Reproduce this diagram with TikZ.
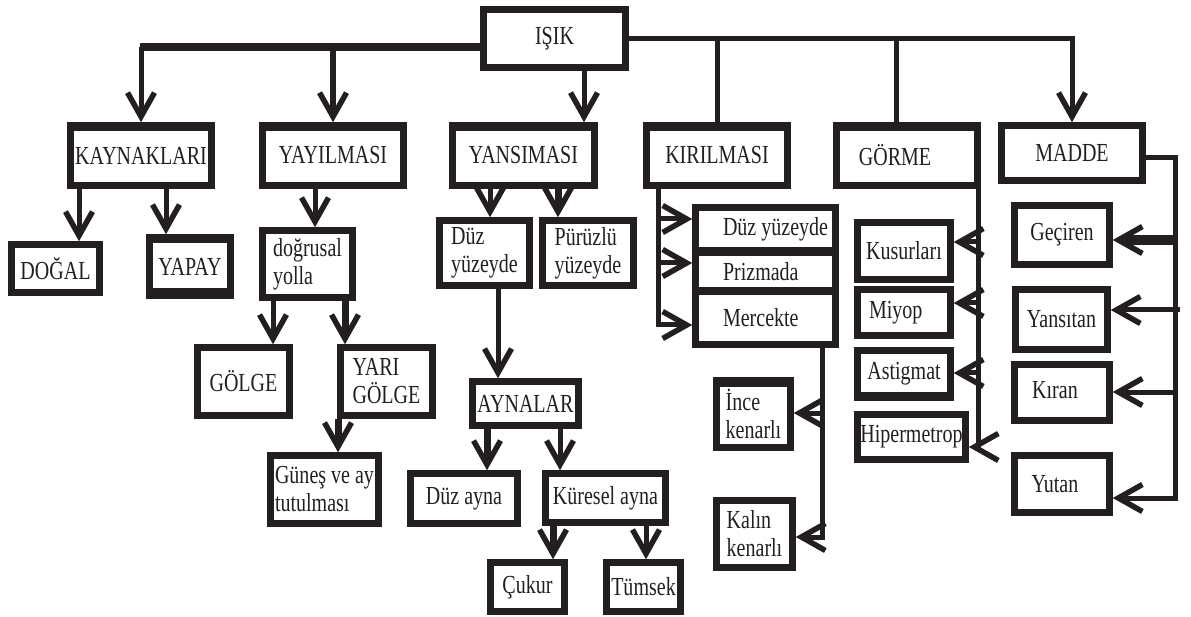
\documentclass[tikz,border=0pt]{standalone}
\usepackage{fontspec}
\setmainfont{Liberation Serif}[FakeStretch=0.77]
\usetikzlibrary{arrows.meta}
\definecolor{ink}{HTML}{231F20}
% left-set text inside a box of fixed width
\newcommand\lft[2]{\makebox[#1][l]{#2}}
% box from its corner coordinates: [options]{name}{x1}{y1}{x2}{y2}{text}
\newcommand\mkbox[7][]{%
  \pgfmathsetmacro\bcx{(#3+#5)/2}%
  \pgfmathsetmacro\bcy{(#4+#6)/2}%
  \pgfmathsetmacro\bw{#5-#3-5}%
  \pgfmathsetmacro\bh{#6-#4-5}%
  \node[cbox,minimum width=\bw pt,minimum height=\bh pt,#1] (#2) at (\bcx,\bcy) {#7};}
% heavier edge along one side of a box: {from}{to}{width}{vertical shift}
\newcommand\edge[4]{\draw[ink,line width=#3] ([yshift=#4]#1) -- ([yshift=#4]#2);}
\begin{document}
\begin{tikzpicture}[x=1pt,y=-1pt,
  cbox/.style={draw=ink,line width=6.5pt,inner sep=0pt,align=center,
    text=ink,font=\fontsize{26}{28}\selectfont},
  conn/.style={draw=ink,line width=5pt},
  heavy/.style={draw=ink,line width=7pt},
  arr/.style={-{Straight Barb[length=24pt,width=27pt,line width=5.5pt]}}]
\useasboundingbox[fill=white] (0,0) rectangle (1191,617);

% ---- boxes ----
\mkbox{isik}{481}{7}{628}{70}{IŞIK}
\mkbox{kay}{68}{123}{214}{188}{KAYNAKLARI}
\mkbox{yay}{260}{123}{406}{188}{YAYILMASI}
\mkbox{yans}{450}{123}{597}{188}{YANSIMASI}
\mkbox{kir}{644}{123}{790}{188}{KIRILMASI}
\mkbox{gorme}{834}{123}{980}{188}{GÖRME\hspace{24pt}}
\mkbox{madde}{999}{123}{1145}{183}{MADDE}

\mkbox{dogal}{9}{242}{102}{295}{DOĞAL}
\mkbox{yapay}{147}{235}{233}{298}{YAPAY}
\mkbox[align=left]{dog}{260}{228}{355}{300}{doğrusal\\yolla}
\mkbox{golge}{195}{345}{292}{418}{GÖLGE}
\mkbox[align=left]{yari}{338}{345}{435}{418}{YARI\\GÖLGE}
\mkbox[align=left]{gunes}{268}{453}{381}{526}{Güneş ve ay\\tutulması}

\mkbox[align=left]{duz}{437}{218}{532}{288}{Düz\\yüzeyde}
\mkbox[align=left]{puruz}{540}{218}{636}{288}{Pürüzlü\\yüzeyde}
\mkbox{ayn}{470}{379}{581}{428}{AYNALAR}
\mkbox{dayna}{408}{471}{520}{526}{Düz ayna}
\mkbox{kures}{543}{471}{668}{525}{Küresel ayna}
\mkbox{cukur}{488}{560}{567}{614}{Çukur}
\mkbox{tumsek}{604}{560}{683}{614}{Tümsek}

\mkbox{kduz}{693}{205}{838}{254}{\lft{85pt}{Düz yüzeyde}}
\mkbox{kpriz}{693}{250}{838}{293}{\lft{85pt}{Prizmada}}
\mkbox{kmerc}{693}{289}{838}{347}{\lft{85pt}{Mercekte}}
\mkbox[align=left]{ince}{714}{378}{793}{450}{İnce\\kenarlı}
\mkbox[align=left]{kalin}{714}{498}{795}{570}{Kalın\\kenarlı}

\mkbox{kus}{855}{220}{953}{282}{Kusurları}
\mkbox{miyop}{855}{287}{953}{338}{\lft{70pt}{Miyop}}
\mkbox{astig}{855}{348}{953}{400}{Astigmat}
\mkbox{hiper}{855}{412}{968}{462}{Hipermetrop}

\mkbox{gecir}{1012}{203}{1112}{267}{Geçiren}
\mkbox{yansit}{1013}{287}{1110}{352}{Yansıtan}
\mkbox{kiran}{1012}{362}{1112}{423}{\raisebox{5pt}{Kıran}\hspace{14pt}}
\mkbox{yutan}{1012}{453}{1112}{515}{\raisebox{-8pt}{Yutan}\hspace{14pt}}

% heavier box edges
\edge{kay.north west}{kay.north east}{8.5pt}{-4.25pt}
\edge{yay.north west}{yay.north east}{8.5pt}{-4.25pt}
\edge{yans.north west}{yans.north east}{8.5pt}{-4.25pt}
\edge{kir.north west}{kir.north east}{8.5pt}{-4.25pt}
\edge{gorme.north west}{gorme.north east}{8.5pt}{-4.25pt}
\edge{yapay.north west}{yapay.north east}{8.5pt}{-4.25pt}
\edge{yapay.south west}{yapay.south east}{11pt}{5.5pt}
\edge{ince.north west}{ince.north east}{9.5pt}{-4.75pt}
\edge{kduz.south west}{kduz.south east}{9pt}{2.75pt}
\edge{astig.south west}{astig.south east}{8.5pt}{4.25pt}

% ---- top level ----
\coordinate (tl) at (140,47);
\draw[ink,line width=8pt] (isik.west |- tl) -- (tl);
\draw[conn,arr] (tl -| kay.north) -- (kay.north);
\draw[ink,line width=6pt,arr] (tl -| yay.north) -- (yay.north);
\coordinate (yd) at (584,0);
\draw[conn,arr] (isik.south -| yd) -- (yans.north -| yd);
\draw[conn,arr] (isik.east) -| (madde.north);
\draw[conn] (isik.east -| kir.north) -- (kir.north);
\coordinate (gd) at (896,0);
\draw[conn] (isik.east -| gd) -- (gorme.north -| gd);

% ---- kaynaklari ----
\coordinate (k1) at (79,0);
\coordinate (k2) at (166,0);
\draw[conn,arr] (kay.south -| k1) -- (dogal.north -| k1);
\draw[conn,arr] (kay.south -| k2) -- (yapay.north -| k2);

% ---- yayilmasi ----
\coordinate (y1) at (315,0);
\draw[conn,arr] (yay.south -| y1) -- (dog.north -| y1);
\coordinate (d1) at (273,0);
\coordinate (d2) at (345,0);
\draw[conn,arr] (dog.south -| d1) -- (golge.north -| d1);
\draw[heavy,arr] (dog.south -| d2) -- (yari.north -| d2);
\coordinate (g1) at (338,0);
\draw[heavy,arr] (yari.south -| g1) -- (gunes.north -| g1);

% ---- yansimasi ----
\coordinate (s1) at (490,0);
\coordinate (s2) at (558,0);
\draw[conn,arr] (yans.south -| s1) -- (duz.north -| s1);
\draw[heavy,arr] (yans.south -| s2) -- (puruz.north -| s2);
\coordinate (s3) at (498,0);
\draw[conn,arr] (duz.south -| s3) -- (ayn.north -| s3);
\coordinate (a1) at (487,0);
\coordinate (a2) at (560,0);
\draw[heavy,arr] (ayn.south -| a1) -- (dayna.north -| a1);
\draw[conn,arr] (ayn.south -| a2) -- (kures.north -| a2);
\coordinate (c1) at (553,0);
\coordinate (c2) at (646,0);
\draw[heavy,arr] (kures.south -| c1) -- (cukur.north -| c1);
\draw[conn,arr] (kures.south -| c2) -- (tumsek.north -| c2);

% ---- kirilmasi ----
\coordinate (r1) at (658,219);
\coordinate (r2) at (658,263);
\coordinate (r3) at (658,325);
\draw[conn,arr] (kir.south -| r1) |- (r1 -| kduz.west);
\draw[conn,arr] (kir.south -| r2) |- (r2 -| kpriz.west);
\draw[conn,arr] (kir.south -| r3) |- (r3 -| kmerc.west);
\coordinate (m1) at (822,413);
\coordinate (m2) at (822,537);
\draw[conn,arr] (kmerc.south -| m1) |- (m1 -| ince.east);
\draw[conn,arr] (kmerc.south -| m2) |- (m2 -| kalin.east);

% ---- gorme ----
\coordinate (o1) at (978,242);
\coordinate (o2) at (978,303);
\coordinate (o3) at (978,373);
\coordinate (o4) at (978,447);
\draw[conn,arr] (gorme.south -| o1) |- (o1 -| kus.east);
\draw[conn,arr] (gorme.south -| o2) |- (o2 -| miyop.east);
\draw[conn,arr] (gorme.south -| o3) |- (o3 -| astig.east);
\draw[conn,arr] (gorme.south -| o4) |- (o4 -| hiper.east);

% ---- madde ----
\coordinate (e0) at (1175,158);
\coordinate (e1) at (1178,240);
\coordinate (e2) at (1180,310);
\coordinate (e3) at (1175,392);
\coordinate (e4) at (1175,498);
\draw[conn,arr] (madde.east |- e0) -| (e4) -- (e4 -| yutan.east);
\draw[ink,line width=10pt,arr] (e1) -- (e1 -| gecir.east);
\draw[conn,arr] (e2) -- (e2 -| yansit.east);
\draw[conn,arr] (e3) -- (e3 -| kiran.east);
\end{tikzpicture}
\end{document}
